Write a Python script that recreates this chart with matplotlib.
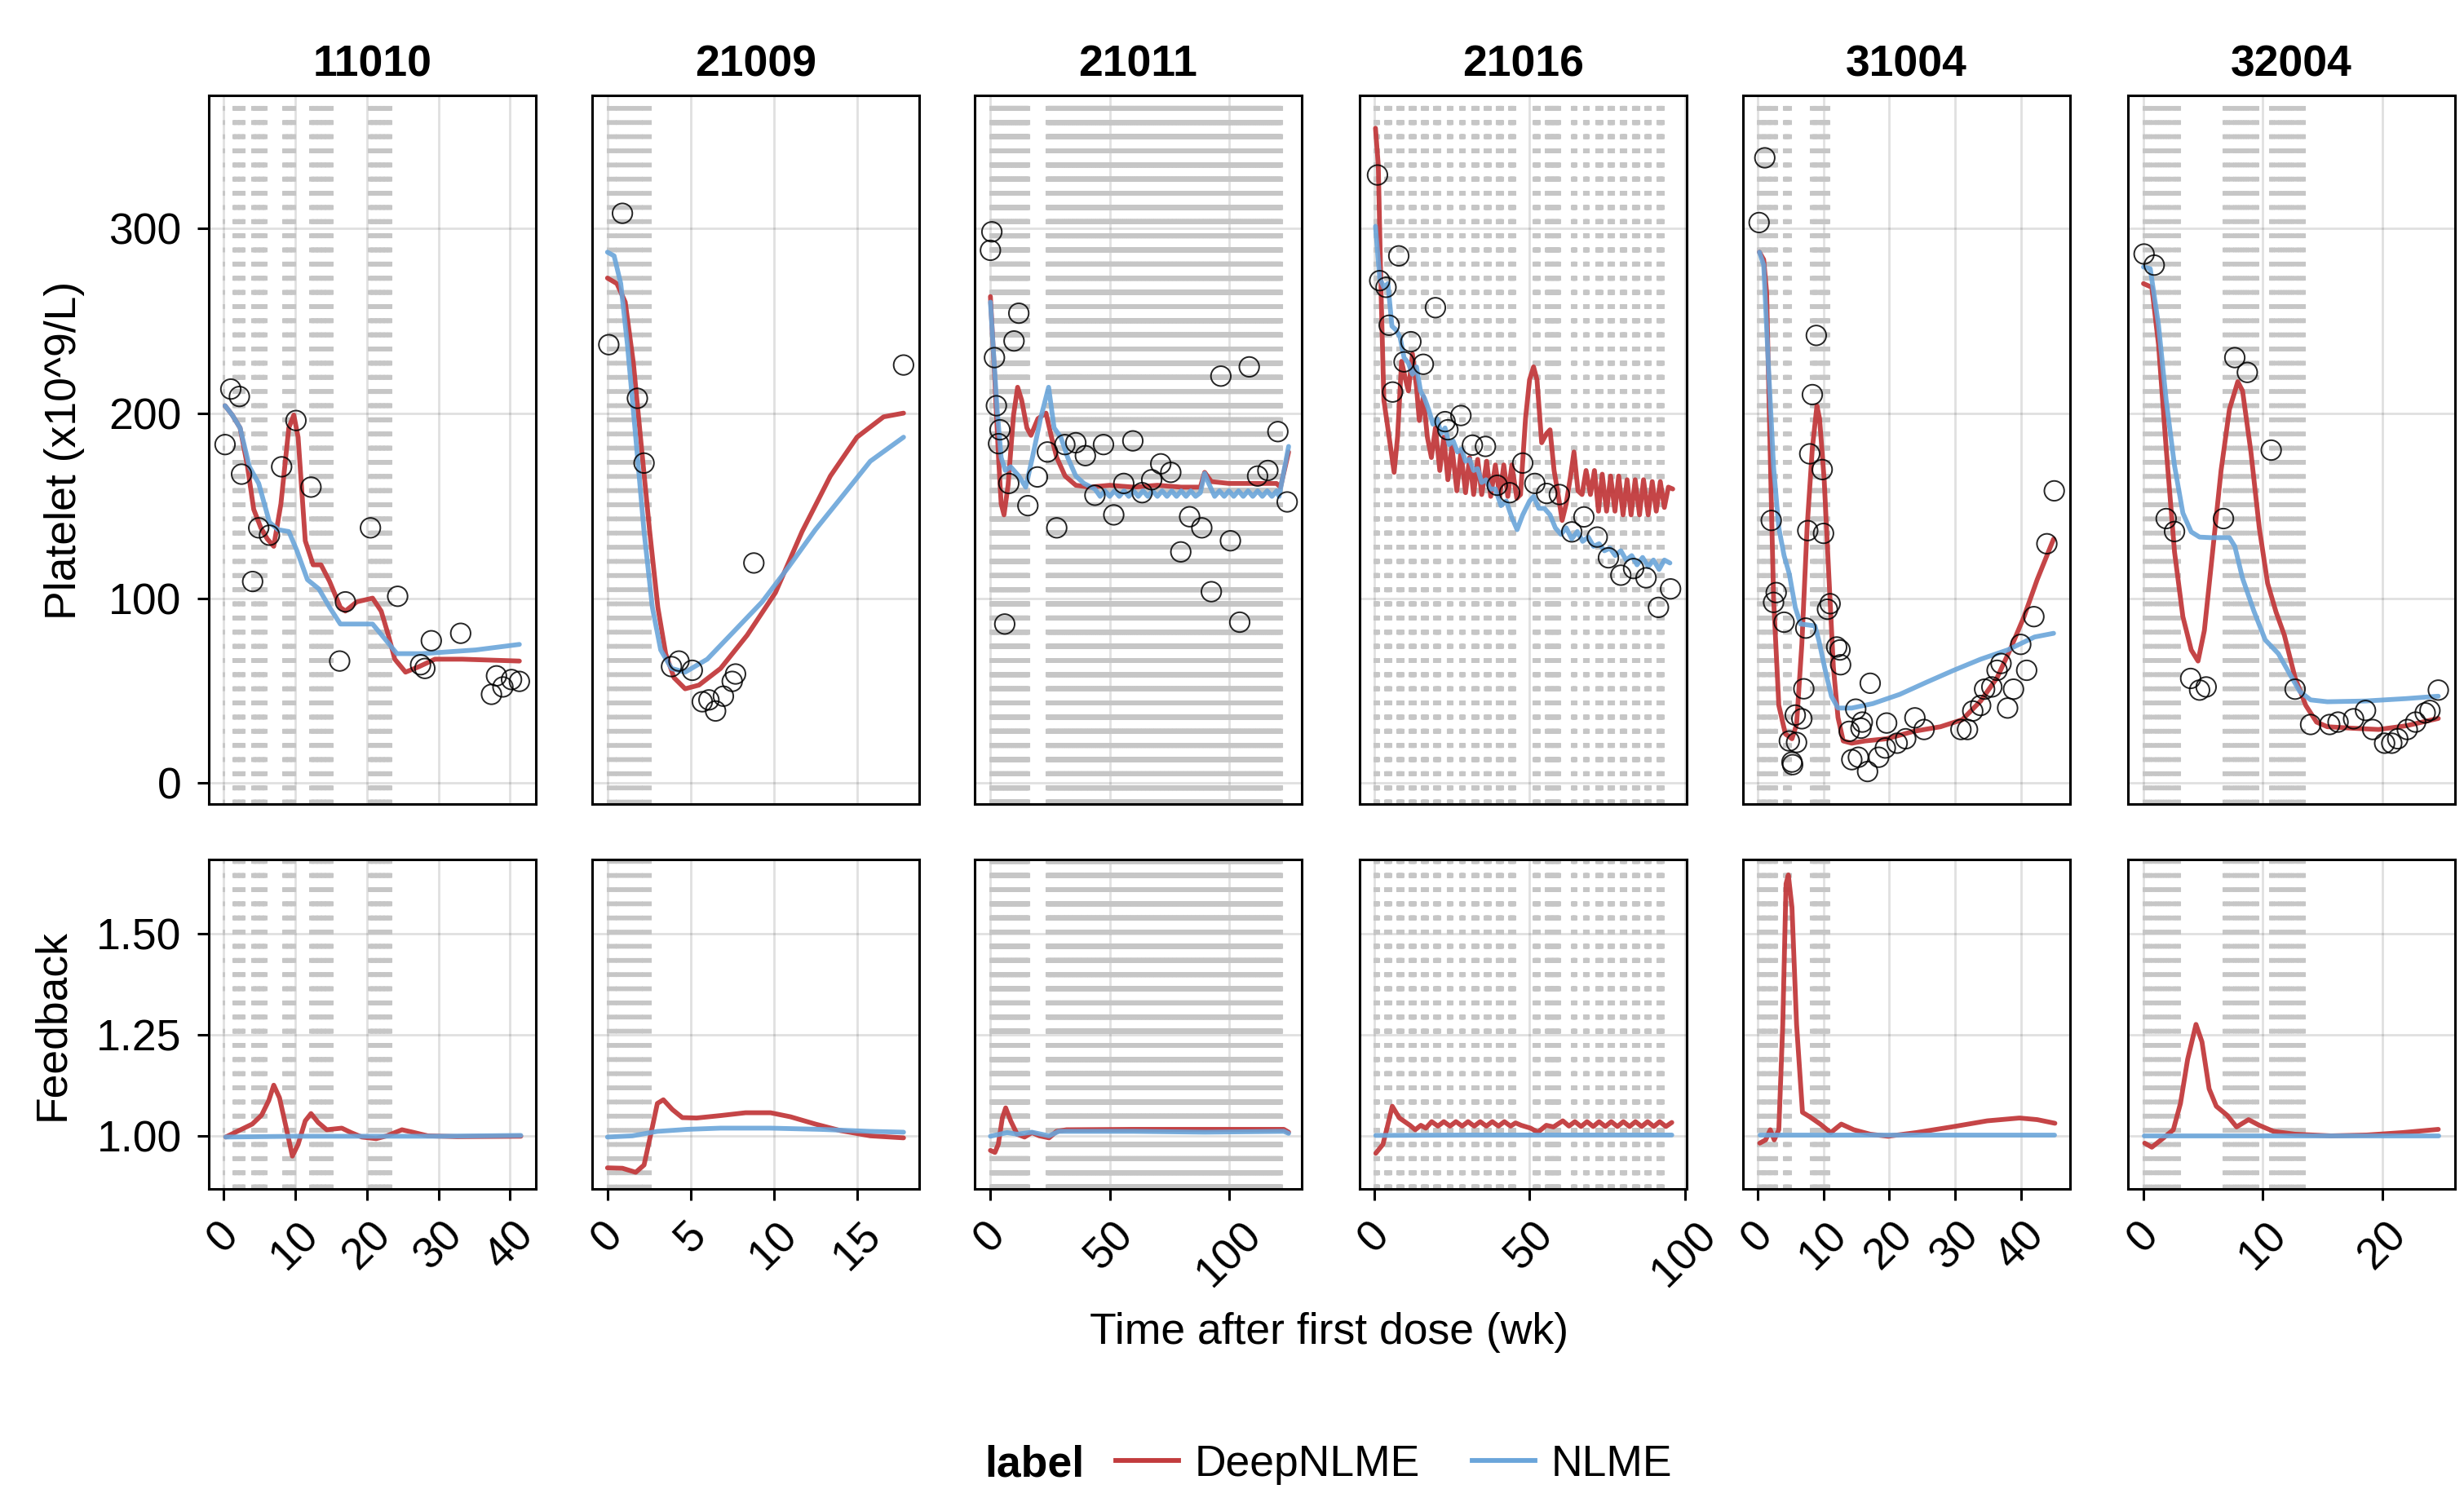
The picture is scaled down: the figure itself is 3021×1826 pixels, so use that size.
import numpy as np
import matplotlib
matplotlib.use("Agg")
import matplotlib.pyplot as plt
from matplotlib.lines import Line2D

plt.rcParams["font.family"] = ["Liberation Sans", "DejaVu Sans"]
plt.rcParams["lines.scale_dashes"] = False

RED = "#c23b3d"
BLUE = "#6aa5da"
DOSE_GRAY = "#c6c6c6"
FS = 38.5
LW = 4.2

# ---------------------------------------------------------------------------
# data (time in weeks)
# ---------------------------------------------------------------------------
subjects = ["11010", "21009", "21011", "21016", "31004", "32004"]

# dosing periods (start, end) in weeks, one dose line per day
doses_11010 = [(0, 0), (1.3, 3.0), (4.0, 5.9), (8.3, 9.9), (12.1, 15.1), (20.3, 23.3)]
doses_21009 = [(0, 2.7)]
doses_21011 = [(0, 16), (23.5, 122)]
doses_21016 = [(0, 1.4), (3.5, 5.3), (7.4, 9.2), (11.4, 13.2), (15.3, 17.1), (19.3, 21.1),
               (23.6, 25.0), (27.6, 29.0), (31.5, 33.4), (35.5, 37.3), (39.4, 41.3),
               (43.4, 45.2), (51.3, 53.1), (55.2, 59.7), (63.6, 65.0), (67.5, 68.9),
               (71.4, 73.3), (75.3, 77.1), (79.3, 81.1), (83.2, 85.1), (87.2, 89.0), (91.1, 93.0)]
doses_31004 = [(0, 2.9), (3.9, 5.0), (8.1, 10.9)]
doses_32004 = [(0, 3.0), (6.7, 9.6), (10.6, 13.5)]

# observed platelets
obs_t_11010 = [0.2, 1.0, 2.2, 2.5, 4.05, 4.9, 6.4, 8.1, 10.1, 12.2, 16.2, 17.0, 20.5, 24.3,
               27.5, 28.1, 29.0, 33.1, 37.4, 38.1, 39.0, 40.2, 41.3]
obs_y_11010 = [183, 213, 209, 167, 109, 138, 134, 171, 196, 160, 66, 98, 138, 101,
               64, 62, 77, 81, 48, 58, 52, 56, 55]
obs_t_21009 = [0.08, 0.9, 1.8, 2.2, 3.85, 4.3, 5.1, 5.7, 6.1, 6.5, 6.97, 7.5, 7.7, 8.8, 17.8]
obs_y_21009 = [237, 308, 208, 173, 63, 66, 61, 44, 45, 39, 47, 55, 59, 119, 226]
obs_t_21011 = [0, 0.6, 1.7, 2.5, 3.4, 4.0, 6.0, 7.7, 9.9, 11.9, 15.7, 19.7, 23.9, 27.8, 31.2,
               35.8, 39.8, 43.8, 47.4, 51.7, 55.9, 59.7, 63.6, 67.6, 71.4, 75.6, 79.8, 83.5,
               88.6, 92.6, 96.6, 100.6, 104.5, 108.5, 112, 116.3, 120.5, 124.4]
obs_y_21011 = [288, 298, 230, 204, 183.5, 191, 86, 162, 239, 254, 150, 165.5, 179, 138, 183,
               184, 177, 155.6, 183, 145, 162, 185, 157, 164, 172.6, 168, 125, 144,
               138, 103.5, 220, 131, 87, 225, 166, 169, 190, 152]
obs_t_21016 = [1.05, 1.75, 3.8, 4.8, 5.9, 7.9, 9.6, 11.8, 15.8, 19.7, 22.8, 23.7, 27.9, 31.6,
               35.8, 39.6, 43.6, 47.8, 51.7, 55.5, 59.6, 63.6, 67.5, 71.8, 75.4, 79.4, 83.5,
               87.5, 91.5, 95.4]
obs_y_21016 = [328.7, 271.6, 268, 247.5, 211.4, 285, 227.7, 238.6, 226.4, 257, 195.4, 191,
               198.7, 182.7, 182, 161, 157, 173, 162, 156.6, 156, 135.8, 143.9, 133, 121.8,
               112.4, 116, 111, 95, 105]
obs_t_31004 = [1.07, 0.2, 8.9, 8.3, 7.9, 9.8, 7.6, 10.0, 2.05, 2.8, 2.4, 4.0, 11.0, 10.6, 12.0,
               12.5, 12.6, 7.3, 7.0, 5.7, 6.7, 4.8, 5.9, 5.2, 5.3, 17.1, 14.9, 13.9, 15.9, 15.7,
               14.3, 15.3, 16.7, 18.4, 19.4, 19.6, 21.2, 22.5, 23.9, 25.3, 30.9, 31.9, 32.7,
               33.9, 34.5, 35.6, 36.4, 37.0, 38.0, 38.9, 40.0, 40.9, 42.0, 43.97, 45.1]
obs_y_31004 = [338, 303, 242, 210, 178, 169.5, 136.5, 135, 142, 103, 97.7, 87, 97, 94, 73.6,
               72, 64, 83.8, 51, 36.8, 34.8, 22.8, 22, 11.4, 10, 54, 40, 28, 33, 29.7,
               12.7, 14, 6.3, 14, 19, 32.5, 21.6, 24, 35.3, 29, 29, 29, 39,
               42, 50.8, 52, 61, 64.7, 40.6, 50.8, 75, 61, 90, 129.4, 158]
obs_t_32004 = [0.05, 0.9, 1.9, 2.6, 3.95, 4.7, 5.25, 6.7, 7.65, 8.7, 10.7, 12.7, 14.0, 15.6,
               16.3, 17.6, 18.6, 19.2, 20.2, 20.8, 21.3, 22.1, 22.8, 23.6, 24.0, 24.7]
obs_y_32004 = [286, 280, 143, 136, 56.6, 50.3, 52, 143, 230, 222, 180, 50.8, 31.7, 31.7,
               33, 34.8, 39.3, 29, 21.6, 21.6, 24, 29, 33, 38, 39.3, 50.3]

# DeepNLME platelet prediction
deep_t_11010 = [0.2, 1.2, 2.3, 3.3, 4.2, 5.2, 6.1, 7.0, 8.0, 9.1, 9.8, 10.4, 11.4, 12.5, 13.6,
                14.8, 16.3, 17.0, 18.6, 20.8, 22.0, 23.0, 23.9, 25.4, 27.3, 29.5, 33.3, 41.3]
deep_y_11010 = [204, 199, 192, 172, 148, 138, 132, 128, 151, 192, 199, 187, 131, 118, 118,
                109, 95, 93, 98, 100, 93, 80, 67, 60, 63, 67, 67, 66]
deep_t_21009 = [0, 0.57, 1.07, 1.56, 2.05, 2.54, 3.03, 3.5, 4.0, 4.67, 5.5, 6.8, 8.4, 10.1,
                11.7, 13.4, 15.0, 16.6, 17.8]
deep_y_21009 = [273, 270, 260, 227, 181, 136, 95, 70, 57, 51, 53, 62, 80, 103, 136, 166, 187,
                198, 200]
deep_t_21011 = [0, 1.7, 3.4, 4.5, 5.7, 7.4, 9.7, 11.4, 13.1, 15.3, 17.0, 19.9, 23.3, 25.6,
                27.8, 31.3, 35.8, 41.5, 50, 60, 70, 80, 88, 89.8, 92.6, 100, 110, 119.9,
                121.6, 125]
deep_y_21011 = [263, 222, 176, 151, 145, 161, 199, 214, 207, 192, 188, 197, 200, 187, 176,
                166, 161, 160, 161, 160, 161, 160, 160, 168, 163, 162, 162, 162, 160, 179]
deep_t_21016 = [0.4, 1.3, 2.2, 3.1, 4.8, 6.4, 7.5, 8.8, 10.1, 11.0, 12.3, 13.6, 14.5, 15.8,
                17.1, 18.4, 19.7, 21.1, 22.4, 23.7, 25.0, 26.6, 27.9, 29.4, 30.7, 32.0, 33.3,
                34.6, 36.2, 37.5, 39.0, 40.4, 41.7, 43.0, 44.3, 45.9, 47.1, 48.7, 50.0, 51.3,
                52.4, 53.9, 55.5, 56.6, 57.9, 59.2, 60.5, 61.8, 63.2, 64.3, 65.6, 66.9, 68.2,
                69.6, 70.9, 72.2, 73.4, 74.8, 76.1, 77.5, 78.7, 80.1, 81.4, 82.7, 84.0, 85.4,
                86.7, 88.2, 89.5, 90.8, 92.1, 93.4, 94.7, 96.1]
deep_y_21016 = [354, 334, 265, 207, 187, 168, 187, 228, 218, 212, 232, 214, 196, 209, 187,
                176, 192, 169, 187, 164, 182, 158, 179, 157, 176, 156, 175, 156, 174, 155,
                172, 155, 172, 155, 172, 154, 156, 197, 218, 225, 218, 184, 189, 191, 169,
                156, 142, 151, 166, 179, 158, 156, 169, 156, 169, 147, 167, 147, 166, 147,
                166, 145, 164, 145, 164, 145, 164, 145, 163, 147, 163, 149, 160, 159]
deep_t_31004 = [0.25, 0.9, 1.35, 1.9, 2.4, 3.2, 4.2, 5.2, 5.9, 6.7, 7.5, 8.3, 9.0, 9.4, 10.1,
                10.8, 11.5, 12.2, 13.0, 14.3, 16.3, 19.6, 23.7, 27.8, 31.1, 33.9, 36.4, 38.4,
                40.5, 42.5, 45.0]
deep_y_31004 = [287, 283, 265, 176.6, 100, 42, 26.6, 24, 31.7, 75, 138, 181, 204, 197, 164,
                113, 62.7, 35.5, 22.8, 21.6, 22.8, 24, 28, 30.5, 34.3, 44.4, 57, 72.3, 90,
                110, 132]
deep_t_32004 = [0, 0.7, 1.26, 1.9, 2.6, 3.3, 4.0, 4.57, 5.1, 5.8, 6.5, 7.2, 7.9, 8.3, 9.0,
                9.7, 10.4, 11.1, 11.8, 12.7, 13.6, 14.5, 15.4, 17.5, 19.7, 22, 24.7]
deep_y_32004 = [270, 268, 237, 181, 125, 90, 72, 66, 82.5, 125.6, 169, 202, 217, 212, 179,
                138, 108, 92.6, 80, 57, 42, 33, 30.5, 29.7, 29, 31, 35]

# NLME platelet prediction
nlme_t_11010 = [0.2, 1.2, 2.3, 3.6, 4.9, 6.4, 7.6, 9.1, 10.2, 11.7, 13.3, 14.8, 16.3, 18.6,
                20.8, 22.3, 24.2, 27.7, 35.2, 41.3]
nlme_y_11010 = [204, 199, 192, 171, 162, 141, 137, 136, 126, 110, 105, 95, 86, 86, 86, 79,
                70, 70, 72, 75]
nlme_t_21009 = [0, 0.4, 0.8, 1.2, 1.7, 2.2, 2.7, 3.2, 3.85, 4.67, 6.0, 7.6, 9.3, 10.9, 12.5,
                14.2, 15.8, 17.8]
nlme_y_21009 = [287, 285, 270, 237, 187, 136, 95, 72, 62, 60, 67, 82, 98, 117, 137, 156,
                174, 187]
nlme_t_21011 = [0, 1.1, 2.8, 4.5, 6.25, 8.5, 11.9, 14.8, 17.6, 21.0, 24.4, 26.7, 29.5, 32.4,
                35.8, 39.2, 43.8, 46, 48, 50, 52, 54, 56, 58, 60, 62, 64, 66, 68, 70, 72, 74,
                76, 78, 80, 82, 84, 86, 88, 89.8, 91.5, 94, 96, 98, 100, 102, 104, 106, 108,
                110, 112, 114, 116, 118, 120, 121, 125]
nlme_y_21011 = [260, 237, 202, 176, 169, 171, 166, 160, 176, 197, 214, 192, 187, 176, 166,
                162, 159, 155, 158, 155, 158, 155, 158, 155, 158, 155, 158, 155, 158, 155,
                158, 155, 158, 155, 158, 155, 158, 155, 157, 167.5, 162, 155, 158, 155, 158,
                155, 158, 155, 158, 155, 158, 155, 158, 155, 158, 155, 182]
nlme_t_21016 = [0.4, 1.75, 3.1, 4.4, 5.7, 7.0, 8.3, 9.6, 11.0, 12.3, 13.6, 14.9, 16.2, 17.5,
                18.9, 20.2, 21.5, 22.8, 24.1, 25.4, 26.8, 28.1, 29.4, 30.7, 32.0, 33.3, 34.6,
                36.0, 37.3, 39.0, 40.8, 42.5, 44.3, 46.0, 47.8, 50.0, 51.3, 53.0, 54.8, 56.6,
                58.3, 60.1, 61.8, 63.6, 65.4, 67.1, 68.9, 70.6, 72.4, 74.1, 75.9, 77.6, 79.4,
                81.1, 82.9, 84.6, 86.4, 88.2, 89.9, 91.7, 93.4, 95.2]
nlme_y_21016 = [301, 273, 268, 270, 247, 245, 241, 230, 227, 221, 225, 212, 208, 202, 194,
                197, 189, 192, 183, 185, 179, 180.5, 174, 175, 169, 170, 162.5, 164, 159,
                159, 150, 152.5, 143.6, 137, 145, 152.5, 155, 148.5, 148.5, 145, 138, 134.5,
                138, 132, 136, 130.7, 133, 128, 129.4, 125.6, 127, 123, 125.6, 120.6, 123,
                118, 122, 117, 120.6, 115.5, 120.6, 119]
nlme_t_31004 = [0.25, 0.9, 1.6, 2.4, 3.2, 4.0, 4.8, 5.7, 6.5, 7.7, 8.7, 9.3, 10.2, 11.2, 12.2,
                14.3, 17.5, 21.6, 25.7, 29.8, 33.9, 38.0, 42.1, 45.0]
nlme_y_31004 = [287, 280, 227, 171, 138, 123, 113, 95, 86, 85.5, 85, 77, 62, 47, 40.6, 40.6,
                43, 48, 54.6, 61, 67, 72, 79, 81]
nlme_t_32004 = [0, 0.57, 1.26, 1.9, 2.6, 3.3, 4.0, 4.7, 5.6, 7.2, 7.65, 8.3, 9.25, 10.2, 11.3,
                12.2, 13.1, 14.0, 15.4, 18.6, 22, 24.7]
nlme_y_32004 = [279, 278, 247.5, 207, 171.6, 146, 135.8, 133, 132.7, 132.7, 128, 110.7, 93,
                77.4, 70, 59.6, 49.5, 45, 44, 44.4, 45.7, 47]

# feedback, DeepNLME
fb_deep_t_11010 = [0.3, 1.9, 4.0, 5.3, 6.3, 7.0, 7.8, 8.8, 9.6, 10.4, 11.4, 12.2, 13.2, 14.4,
                   16.5, 17.8, 19.3, 21.3, 22.8, 24.9, 26.4, 28.5, 32.6, 41.5]
fb_deep_y_11010 = [0.998, 1.012, 1.030, 1.052, 1.088, 1.126, 1.095, 1.016, 0.951, 0.980,
                   1.038, 1.056, 1.034, 1.016, 1.020, 1.009, 0.998, 0.994, 1.001, 1.016,
                   1.010, 1.001, 0.999, 1.000]
fb_deep_t_21009 = [0, 0.9, 1.7, 2.2, 2.7, 3.0, 3.36, 3.9, 4.5, 5.36, 6.8, 8.3, 9.8, 11.0, 12.5,
                   14.0, 15.8, 17.8]
fb_deep_y_21009 = [0.922, 0.921, 0.911, 0.929, 1.023, 1.081, 1.090, 1.066, 1.046, 1.045,
                   1.051, 1.058, 1.058, 1.048, 1.030, 1.014, 1.001, 0.996]
fb_deep_t_21011 = [0, 1.9, 3.3, 5.0, 6.4, 8.5, 11.2, 14.3, 17.4, 20.5, 24.6, 27.7, 31.9, 60,
                   90, 123, 125]
fb_deep_y_21011 = [0.965, 0.960, 0.980, 1.045, 1.070, 1.038, 1.005, 0.998, 1.009, 1.001,
                   0.996, 1.012, 1.016, 1.017, 1.017, 1.017, 1.010]
fb_deep_t_21016 = [0.5, 2.8, 4.2, 5.8, 8.1, 11.5, 13.2, 15.0, 16.6, 18.5, 20.5, 22.4, 24.4,
                   26.3, 28.3, 30.2, 32.2, 34.1, 36.1, 38.0, 40.0, 41.9, 43.9, 45.5, 47.3,
                   50.3, 52.7, 55.4, 57.7, 60.7, 62.7, 64.6, 66.6, 68.5, 70.5, 72.4, 74.4,
                   76.3, 78.3, 80.2, 82.2, 84.1, 86.1, 88.0, 90.0, 91.9, 93.9, 95.8]
fb_deep_y_21016 = [0.958, 0.980, 1.023, 1.074, 1.045, 1.027, 1.016, 1.027, 1.020, 1.036,
                   1.025, 1.036, 1.025, 1.036, 1.025, 1.036, 1.025, 1.036, 1.025, 1.036,
                   1.025, 1.036, 1.025, 1.033, 1.027, 1.020, 1.010, 1.027, 1.023, 1.038,
                   1.025, 1.036, 1.024, 1.036, 1.024, 1.036, 1.024, 1.036, 1.024, 1.036,
                   1.024, 1.036, 1.024, 1.036, 1.024, 1.036, 1.024, 1.034]
fb_deep_t_31004 = [0.3, 1.2, 1.9, 2.5, 3.2, 3.8, 4.3, 4.65, 5.2, 5.9, 6.8, 7.9, 9.5, 11.1,
                   12.7, 14.6, 17.1, 19.8, 24.1, 29.5, 34.9, 39.8, 42.5, 45.2]
fb_deep_y_31004 = [0.983, 0.991, 1.016, 0.991, 1.016, 1.276, 1.623, 1.645, 1.565, 1.276,
                   1.059, 1.048, 1.030, 1.009, 1.030, 1.016, 1.005, 1.000, 1.009, 1.023,
                   1.038, 1.045, 1.041, 1.032]
fb_deep_t_32004 = [0.1, 0.7, 1.6, 2.5, 3.1, 3.7, 4.4, 4.9, 5.5, 6.1, 7.0, 7.8, 8.8, 9.7, 10.9,
                   12.7, 15.7, 18.7, 21.7, 24.7]
fb_deep_y_32004 = [0.983, 0.973, 0.994, 1.016, 1.081, 1.190, 1.276, 1.233, 1.117, 1.074,
                   1.052, 1.023, 1.041, 1.027, 1.012, 1.005, 1.001, 1.003, 1.009, 1.017]

# feedback, NLME
fb_nlme_t_11010 = [0.3, 10, 20, 30, 41.5]
fb_nlme_y_11010 = [0.998, 1.0, 1.0, 1.0, 1.002]
fb_nlme_t_21009 = [0, 1.5, 3.0, 4.8, 6.8, 9.8, 12.8, 15.8, 17.8]
fb_nlme_y_21009 = [0.998, 1.001, 1.012, 1.017, 1.020, 1.020, 1.017, 1.012, 1.010]
fb_nlme_t_21011 = [0, 7, 11.2, 17.4, 24.6, 28.7, 60, 90, 123, 125]
fb_nlme_y_21011 = [1.0, 1.009, 1.005, 1.010, 1.001, 1.012, 1.012, 1.010, 1.012, 1.007]
fb_nlme_t_21016 = [0.5, 30, 60, 95.8]
fb_nlme_y_21016 = [1.002, 1.003, 1.003, 1.003]
fb_nlme_t_31004 = [0.3, 20, 45.2]
fb_nlme_y_31004 = [1.003, 1.003, 1.003]
fb_nlme_t_32004 = [0.1, 12, 24.7]
fb_nlme_y_32004 = [1.0, 1.0, 1.0]

xticks_list = [[0, 10, 20, 30, 40], [0, 5, 10, 15], [0, 50, 100], [0, 50, 100],
               [0, 10, 20, 30, 40], [0, 10, 20]]
xlims_list = [(-2.07, 43.6), (-0.92, 18.74), (-6.6, 130.5), (-4.7, 100.6),
              (-2.25, 47.5), (-1.3, 26.1)]

panels = [
    (doses_11010, obs_t_11010, obs_y_11010, deep_t_11010, deep_y_11010, nlme_t_11010, nlme_y_11010,
     fb_deep_t_11010, fb_deep_y_11010, fb_nlme_t_11010, fb_nlme_y_11010),
    (doses_21009, obs_t_21009, obs_y_21009, deep_t_21009, deep_y_21009, nlme_t_21009, nlme_y_21009,
     fb_deep_t_21009, fb_deep_y_21009, fb_nlme_t_21009, fb_nlme_y_21009),
    (doses_21011, obs_t_21011, obs_y_21011, deep_t_21011, deep_y_21011, nlme_t_21011, nlme_y_21011,
     fb_deep_t_21011, fb_deep_y_21011, fb_nlme_t_21011, fb_nlme_y_21011),
    (doses_21016, obs_t_21016, obs_y_21016, deep_t_21016, deep_y_21016, nlme_t_21016, nlme_y_21016,
     fb_deep_t_21016, fb_deep_y_21016, fb_nlme_t_21016, fb_nlme_y_21016),
    (doses_31004, obs_t_31004, obs_y_31004, deep_t_31004, deep_y_31004, nlme_t_31004, nlme_y_31004,
     fb_deep_t_31004, fb_deep_y_31004, fb_nlme_t_31004, fb_nlme_y_31004),
    (doses_32004, obs_t_32004, obs_y_32004, deep_t_32004, deep_y_32004, nlme_t_32004, nlme_y_32004,
     fb_deep_t_32004, fb_deep_y_32004, fb_nlme_t_32004, fb_nlme_y_32004),
]

# ---------------------------------------------------------------------------
# layout (pixel boxes of the reference)
# ---------------------------------------------------------------------------
W, H = 3021, 1826
fig = plt.figure(figsize=(W / 100, H / 100), dpi=100)

col_left = [256, 726, 1195, 1667, 2137, 2609]
col_w = 401
top_y = (117.5, 986.5)
bot_y = (1054, 1458)


def box(x0, y0, y1):
    return [x0 / W, 1 - y1 / H, col_w / W, (y1 - y0) / H]


def style(ax):
    for s in ax.spines.values():
        s.set_linewidth(2.2)
    ax.grid(True, color="black", alpha=0.12, linewidth=2)
    ax.set_axisbelow(True)
    ax.tick_params(length=10, width=2.2, labelsize=FS, pad=14)


def draw_doses(ax, periods):
    times = np.concatenate([np.arange(a, b + 1e-6, 1 / 7) for a, b in periods])
    ax.vlines(times, 0, 1, transform=ax.get_xaxis_transform(), colors=DOSE_GRAY,
              linewidth=2.2, linestyles=[(0, (4.2, 8.3))], zorder=1)


for i, (subj, p) in enumerate(zip(subjects, panels)):
    (doses, ot, oy, dt, dy, nt, ny, fdt, fdy, fnt, fny) = p
    ax_t = fig.add_axes(box(col_left[i], *top_y))
    ax_b = fig.add_axes(box(col_left[i], *bot_y))
    for ax in (ax_t, ax_b):
        style(ax)
        draw_doses(ax, doses)
        ax.set_xlim(*xlims_list[i])
        ax.set_xticks(xticks_list[i])

    ax_t.plot(dt, dy, color=RED, lw=LW, alpha=0.95, zorder=3, solid_capstyle="round")
    ax_t.plot(nt, ny, color=BLUE, lw=LW, alpha=0.9, zorder=3, solid_capstyle="round")
    ax_t.scatter(ot, oy, s=17.5 ** 2, facecolors="none", edgecolors=(0, 0, 0, 0.85),
                 linewidths=1.4, zorder=4)
    ax_t.set_ylim(-11.5, 371.5)
    ax_t.set_yticks([0, 100, 200, 300])
    ax_t.tick_params(axis="x", length=0, labelbottom=False)
    ax_t.set_title(subj, fontsize=FS, fontweight="bold", pad=17)

    ax_b.plot(fdt, fdy, color=RED, lw=LW, alpha=0.95, zorder=3, solid_capstyle="round")
    ax_b.plot(fnt, fny, color=BLUE, lw=LW, alpha=0.9, zorder=3, solid_capstyle="round")
    ax_b.set_ylim(0.87, 1.683)
    ax_b.set_yticks([1.0, 1.25, 1.5])
    ax_b.set_yticklabels(["1.00", "1.25", "1.50"])
    ax_b.set_xticklabels([str(t) for t in xticks_list[i]], rotation=45, ha="center", va="top")
    ax_b.tick_params(axis="x", pad=12)

    if i == 0:
        ax_t.set_ylabel("Platelet (x10^9/L)", fontsize=FS, labelpad=21)
        ax_b.set_ylabel("Feedback", fontsize=FS, labelpad=21)
    else:
        ax_t.tick_params(axis="y", length=0, labelleft=False)
        ax_b.tick_params(axis="y", length=0, labelleft=False)

fig.text(1630 / W, 1 - 1634 / H, "Time after first dose (wk)", fontsize=FS,
         ha="center", va="center")

# legend
leg_y = 1 - 1796 / H
fig.text(1329 / W, leg_y, "label", fontsize=FS, fontweight="bold", ha="right", va="center")
handles = [Line2D([], [], color=RED, lw=LW), Line2D([], [], color=BLUE, lw=LW)]
fig.legend(handles, ["DeepNLME", "NLME"], loc="center left", bbox_to_anchor=(1368 / W, leg_y),
           ncol=2, frameon=False, fontsize=FS, handlelength=1.44, handletextpad=0.36,
           columnspacing=1.21, borderpad=0, borderaxespad=0)

fig.savefig("out.png", dpi=100)
